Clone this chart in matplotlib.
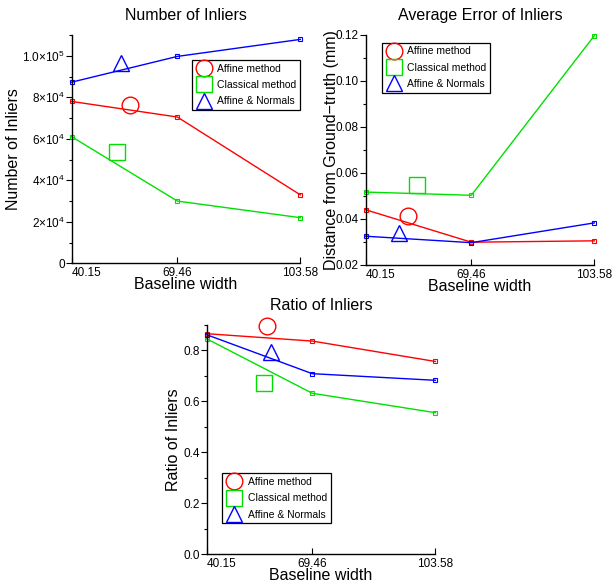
#!/usr/bin/env python3
# Three MATLAB-style panels: inlier count, inlier error and inlier ratio vs baseline width

import matplotlib
matplotlib.use('Agg')
import matplotlib.pyplot as plt
from matplotlib.ticker import MultipleLocator, FixedLocator

plt.rcParams['font.family'] = ['Liberation Sans', 'DejaVu Sans']
plt.rcParams['mathtext.default'] = 'regular'

baselines = [40.15, 69.46, 103.58]
baselineLbls = ['40.15', '69.46', '103.58']
methodNames = ['Affine method', 'Classical method', 'Affine & Normals']
methodColors = ['#ff0000', '#00e000', '#0000ff']
bigMarkers = ['o', 's', '^']

# number of inliers
countAffine = [78000, 70500, 33000]
countClassical = [61000, 30000, 22000]
countNormals = [87300, 99700, 107900]
# stray big markers (x, y) for each method
countMarkX = [56.3, 52.8, 53.8]
countMarkY = [76400, 53500, 96500]

# average error (mm)
errAffine = [0.0440, 0.0299, 0.0305]
errClassical = [0.0517, 0.0503, 0.1197]
errNormals = [0.0325, 0.0297, 0.0383]
errMarkX = [52.0, 54.5, 49.4]
errMarkY = [0.0412, 0.0546, 0.0340]

# ratio of inliers
ratioAffine = [0.866, 0.837, 0.757]
ratioClassical = [0.846, 0.632, 0.556]
ratioNormals = [0.862, 0.709, 0.683]
ratioMarkX = [57.0, 56.1, 58.0]
ratioMarkY = [0.895, 0.673, 0.793]

countTicks = [0, 20000, 40000, 60000, 80000, 100000]
countTickLbls = ['0', '2\u00d710$^4$', '4\u00d710$^4$', '6\u00d710$^4$', '8\u00d710$^4$', '1.0\u00d710$^5$']


def drawPanel(ax, series, markX, markY, title, ylabel, ylim, ylabelX, legendAnchor):
    for (vals, color, name, mk, mx, my) in zip(series, methodColors, methodNames, bigMarkers, markX, markY):
        ax.plot(baselines, vals, '-s', color=color, lw=1, ms=3.5, mfc='none', mew=0.8, clip_on=False)
        ax.plot([mx], [my], linestyle='none', marker=mk, ms=12 if mk != 's' else 11,
                mfc='none', mec=color, mew=1.0, label=name, clip_on=False)

    ax.set_xlim(baselines[0], baselines[-1])
    ax.set_ylim(ylim)
    ax.set_xticks(baselines)
    ax.set_xticklabels(baselineLbls, fontsize=8.5)
    ax.get_xticklabels()[0].set_ha('left') #MATLAB export pushes the first label right of its tick
    ax.tick_params(axis='x', direction='in', length=4, width=0.8, pad=3)
    ax.tick_params(axis='y', which='major', direction='out', length=4, width=0.8, labelsize=8.5, pad=1)
    ax.tick_params(axis='y', which='minor', direction='out', length=2.5, width=0.8)

    for side in ('top', 'right'):
        ax.spines[side].set_visible(False)
    for side in ('left', 'bottom'):
        ax.spines[side].set_linewidth(1.0)

    ax.set_title(title, fontsize=11.5, pad=11)
    ax.set_xlabel('Baseline width', fontsize=11.5, va='center')
    ax.xaxis.set_label_coords(0.5, -0.092)
    ax.set_ylabel(ylabel, fontsize=11.5, va='center')
    ax.yaxis.set_label_coords(ylabelX, 0.5)

    leg = ax.legend(loc='upper left', bbox_to_anchor=legendAnchor, borderaxespad=0, fontsize=7.5,
                    fancybox=False, framealpha=1, edgecolor='k', handlelength=1.6, handletextpad=0.5,
                    labelspacing=0.6, borderpad=0.35, numpoints=1)
    leg.get_frame().set_linewidth(0.9)
    return ax


fig = plt.figure(figsize=(6.14, 5.87), dpi=100)

ax1 = fig.add_axes([0.1168, 0.5514, 0.3723, 0.3889])
drawPanel(ax1, [countAffine, countClassical, countNormals], countMarkX, countMarkY,
          'Number of Inliers', 'Number of Inliers', (0, 110000), -0.255, (0.525, 0.890))
ax1.yaxis.set_major_locator(FixedLocator(countTicks))
ax1.set_yticklabels(countTickLbls)
ax1.yaxis.set_minor_locator(MultipleLocator(10000))

ax2 = fig.add_axes([0.5956, 0.5486, 0.3723, 0.3918])
drawPanel(ax2, [errAffine, errClassical, errNormals], errMarkX, errMarkY,
          'Average Error of Inliers', 'Distance from Ground\u2212truth (mm)', (0.02, 0.12), -0.15, (0.070, 0.966))
ax2.yaxis.set_major_locator(MultipleLocator(0.02))
ax2.yaxis.set_minor_locator(MultipleLocator(0.01))
ax2.yaxis.set_major_formatter(plt.FormatStrFormatter('%.2f'))

ax3 = fig.add_axes([0.3366, 0.0557, 0.3723, 0.3906])
drawPanel(ax3, [ratioAffine, ratioClassical, ratioNormals], ratioMarkX, ratioMarkY,
          'Ratio of Inliers', 'Ratio of Inliers', (0, 0.9), -0.146, (0.068, 0.353))
ax3.yaxis.set_major_locator(MultipleLocator(0.2))
ax3.yaxis.set_minor_locator(MultipleLocator(0.1))
ax3.yaxis.set_major_formatter(plt.FormatStrFormatter('%.1f'))

fig.savefig('out.png', dpi=100)
